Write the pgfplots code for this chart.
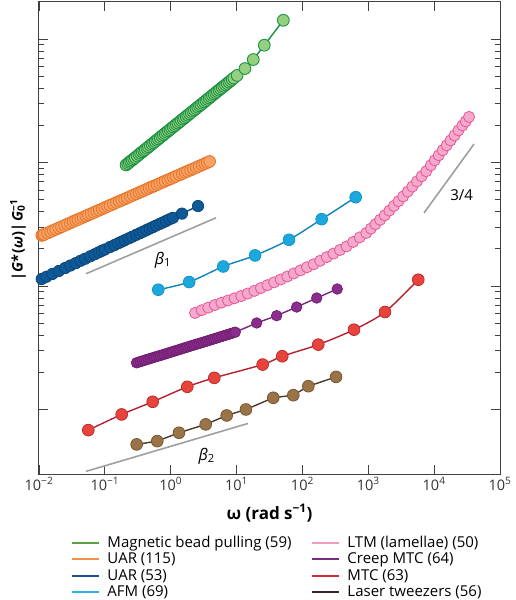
\documentclass[border=0pt]{standalone}
\usepackage{fontspec}
\setmainfont{Open Sans}
\usepackage{pgfplots}
\pgfplotsset{compat=1.18}
\definecolor{gLine}{HTML}{1A8F40}\definecolor{gFill}{HTML}{94D07F}\definecolor{gEdge}{HTML}{1E9245}
\definecolor{oLine}{HTML}{F07C2A}\definecolor{oFill}{HTML}{F6A265}\definecolor{oEdge}{HTML}{E8742A}
\definecolor{bLine}{HTML}{0B4E86}\definecolor{bFill}{HTML}{0E5A98}\definecolor{bEdge}{HTML}{0A4374}
\definecolor{aLine}{HTML}{0E84B8}\definecolor{aFill}{HTML}{1BA8DD}\definecolor{aEdge}{HTML}{1390C4}
\definecolor{pLine}{HTML}{E9579A}\definecolor{pFill}{HTML}{F5A9CB}\definecolor{pEdge}{HTML}{E4579A}
\definecolor{uLine}{HTML}{7B2580}\definecolor{uFill}{HTML}{8C2C8C}\definecolor{uEdge}{HTML}{6D1F70}
\definecolor{rLine}{HTML}{B5202C}\definecolor{rFill}{HTML}{E8443D}\definecolor{rEdge}{HTML}{B52A2A}
\definecolor{nLine}{HTML}{4A3B2A}\definecolor{nFill}{HTML}{9A7446}\definecolor{nEdge}{HTML}{6E5232}
\definecolor{lgG}{HTML}{5E9E45}\definecolor{lgO}{HTML}{F0904A}\definecolor{lgB}{HTML}{1F4F8C}
\definecolor{lgA}{HTML}{27B3E5}\definecolor{lgP}{HTML}{F29AC0}\definecolor{lgU}{HTML}{7A2C7E}
\definecolor{lgR}{HTML}{D9283C}\definecolor{lgN}{HTML}{3B2226}
\definecolor{axgray}{HTML}{404040}
\begin{document}
\begin{tikzpicture}
\begin{axis}[
  scale only axis, width=461pt, height=472pt,
  xmode=log, ymode=log,
  xmin=0.01, xmax=1e5, ymin=0.3, ymax=2000,
  xtick={0.01,0.1,1,10,100,1000,10000,100000},
  xticklabels={10\textsuperscript{−2},10\textsuperscript{−1},10\textsuperscript{0},10\textsuperscript{1},10\textsuperscript{2},10\textsuperscript{3},10\textsuperscript{4},10\textsuperscript{5}},
  xminorticks=false,
  ytick={1,10,100,1000}, yticklabels={},
  major tick length=9pt, minor tick length=5.5pt,
  axis line style={draw=axgray, line width=1pt},
  every tick/.style={axgray, line width=0.9pt},
  x tick label style={font=\fontsize{14.5}{14.5}\selectfont, text=axgray!80!black},
  xlabel={\textbf{ω (rad s\textsuperscript{−1})}},
  xlabel style={font=\fontsize{17}{17}\selectfont, at={(axis description cs:0.5,-0.0826)}, anchor=center},
  ylabel={\textbf{|\textit{G}*\hspace{0.08em}(\textit{ω})|\hspace{0.12em}\textit{G}\rlap{\textsubscript{0}}\textsuperscript{−1}}},
  ylabel style={font=\fontsize{14.5}{14.5}\selectfont, at={(axis description cs:-0.0456,0.496)}, anchor=center},
  legend style={at={(0.07,-0.127)}, anchor=north west, draw=none, fill=none,
    font=\fontsize{15}{15.7}\selectfont, inner sep=0pt,
    /tikz/every even column/.append style={column sep=18pt},
    /tikz/every odd column/.append style={column sep=5pt}},
  legend columns=2, legend cell align=left,
  legend image code/.code={\draw[line width=2pt] (0pt,0pt) -- (27pt,0pt);},
]
% Magnetic bead pulling
\addplot[forget plot, gLine, line width=1.4pt, mark=*, mark size=5.9pt, mark options={solid, fill=gFill, draw=gEdge, line width=0.9pt}] coordinates {
(0.21,95.7)(0.222,98.1)(0.235,100.5)(0.247,102.7)(0.26,105.0)(0.275,107.4)(0.29,109.9)(0.31,113.1)(0.33,116.4)(0.35,119.3)(0.37,122.2)(0.39,124.9)(0.41,127.6)(0.435,130.9)(0.46,134.3)(0.49,137.8)(0.52,141.3)(0.55,144.8)(0.58,148.3)(0.615,151.9)(0.65,155.6)(0.69,159.6)(0.73,163.7)(0.775,167.9)(0.82,172.2)(0.87,176.4)(0.92,180.7)(0.975,185.2)(1.03,189.7)(1.09,194.4)(1.15,199.1)(1.22,204.0)(1.29,208.9)(1.37,214.3)(1.45,219.8)(1.535,225.2)(1.62,230.7)(1.72,236.4)(1.82,242.1)(1.93,248.4)(2.04,254.7)(2.165,261.0)(2.29,267.3)(2.43,274.2)(2.57,281.2)(2.725,288.1)(2.88,295.1)(3.055,302.4)(3.23,309.7)(3.425,317.7)(3.62,325.8)(3.84,333.9)(4.06,342.0)(4.305,350.8)(4.55,359.7)(4.825,368.6)(5.1,377.6)(5.4,387.0)(5.7,396.3)(6.05,406.1)(6.4,415.9)(6.8,426.7)(7.2,437.5)(7.65,448.9)(8.1,460.3)(8.6,472.2)(9.1,484.2)(10.2,508.2)(13.43,578)(17.95,684)(26.36,893)(51.3,1422)};
% UAR (115)
\addplot[forget plot, oLine, line width=1.4pt, mark=*, mark size=5.9pt, mark options={solid, fill=oFill, draw=oEdge, line width=0.8pt}] coordinates {
(0.011,25.7)(0.0115,25.95)(0.012,26.2)(0.0135,26.9)(0.015,27.6)(0.0165,28.2)(0.018,28.8)(0.020,29.5)(0.022,30.2)(0.0245,30.95)(0.027,31.7)(0.030,32.5)(0.033,33.3)(0.036,33.95)(0.039,34.6)(0.043,35.35)(0.047,36.1)(0.0515,36.9)(0.056,37.7)(0.062,38.55)(0.068,39.4)(0.075,40.3)(0.082,41.2)(0.091,42.2)(0.1,43.2)(0.11,44.15)(0.12,45.1)(0.135,46.3)(0.15,47.5)(0.165,48.5)(0.18,49.5)(0.20,50.7)(0.22,51.9)(0.245,53.2)(0.27,54.5)(0.30,55.8)(0.33,57.1)(0.36,58.25)(0.39,59.4)(0.43,60.75)(0.47,62.1)(0.515,63.4)(0.56,64.7)(0.62,66.25)(0.68,67.8)(0.75,69.3)(0.82,70.8)(0.91,72.45)(1.0,74.1)(1.1,75.75)(1.2,77.4)(1.35,79.45)(1.5,81.5)(1.65,83.3)(1.8,85.1)(2.0,87.1)(2.2,89.1)(2.45,91.3)(2.7,93.5)(3.0,95.85)(3.3,98.2)(3.6,100.15)(3.9,102.1)};
% UAR (53)
\addplot[forget plot, bLine, line width=1.4pt, mark=*, mark size=5.7pt, mark options={solid, fill=bFill, draw=bEdge, line width=0.7pt}] coordinates {
(0.011,11.40)(0.013,11.89)(0.016,12.53)(0.02,13.24)(0.025,14.00)(0.03,14.66)(0.036,15.31)(0.043,16.03)(0.05,16.63)(0.06,17.41)(0.07,18.07)(0.08,18.71)(0.09,19.28)(0.1,19.77)(0.12,20.70)(0.14,21.48)(0.16,22.23)(0.18,22.86)(0.2,23.50)(0.23,24.32)(0.26,25.06)(0.3,26.00)(0.34,26.79)(0.38,27.54)(0.43,28.44)(0.48,29.24)(0.54,30.06)(0.6,30.90)(0.68,31.84)(0.76,32.73)(0.85,33.65)(0.95,34.67)(1.08,35.7)(1.48,38.6)(2.6,44.46)};
% AFM
\addplot[forget plot, aLine, line width=1.4pt, smooth, mark=*, mark size=5.9pt, mark options={solid, fill=aFill, draw=aEdge, line width=0.7pt}] coordinates {
(0.647,9.33)(1.91,10.77)(6.28,14.4)(19.1,17.7)(62.5,23.7)(196,34.8)(644,52.4)};
% LTM (lamellae)
\addplot[forget plot, pLine, line width=1.4pt, smooth, mark=*, mark size=5.6pt, mark options={solid, fill=pFill, draw=pEdge, line width=0.8pt}] coordinates {
(2.344,6.053)(2.951,6.368)(3.715,6.683)(4.677,7.015)(5.888,7.328)(7.413,7.638)(9.333,7.962)(11.75,8.299)(14.79,8.690)(18.62,9.141)(23.44,9.638)(29.51,10.16)(37.15,10.72)(46.77,11.30)(58.88,11.94)(74.13,12.65)(93.33,13.40)(117.5,14.19)(147.9,15.00)(186.2,16.03)(234.4,17.14)(295.1,18.32)(371.5,19.59)(467.7,20.94)(588.8,22.75)(741.3,24.77)(933.3,26.92)(1096,29.17)(1288,31.70)(1514,34.44)(1778,37.41)(2089,40.83)(2455,44.57)(2884,48.64)(3388,53.21)(3981,58.21)(4677,63.97)(5495,70.47)(6457,77.45)(7586,85.11)(8913,95.06)(10233,104.5)(11749,114.6)(13490,125.9)(15488,138.0)(17783,151.4)(20417,166.0)(23442,182.4)(26915,200.0)(30200,215.8)(33884,234.4)};
% Creep MTC
\addplot[forget plot, uLine, line width=1.4pt, mark=*, mark size=5.3pt, mark options={solid, fill=uFill, draw=uEdge, line width=0.7pt}] coordinates {
(0.302,2.388)(0.324,2.415)(0.3467,2.443)(0.372,2.471)(0.3981,2.500)(0.428,2.529)(0.4571,2.559)(0.491,2.588)(0.5248,2.618)(0.564,2.648)(0.6026,2.679)(0.647,2.707)(0.6918,2.735)(0.743,2.767)(0.7943,2.799)(0.853,2.831)(0.9120,2.864)(0.980,2.897)(1.047,2.931)(1.124,2.965)(1.202,2.999)(1.291,3.034)(1.380,3.069)(1.482,3.105)(1.585,3.141)(1.702,3.177)(1.820,3.214)(1.954,3.251)(2.089,3.289)(2.244,3.327)(2.399,3.365)(2.576,3.400)(2.754,3.436)(2.958,3.476)(3.162,3.516)(3.396,3.556)(3.631,3.597)(3.900,3.639)(4.169,3.681)(4.477,3.724)(4.786,3.767)(5.140,3.811)(5.495,3.855)(5.902,3.900)(6.310,3.945)(6.777,3.990)(7.244,4.036)(7.781,4.083)(8.318,4.130)(8.934,4.178)(9.550,4.227)(20.2,5.02)(40.6,5.75)(81.8,6.76)(165,8.00)(338,9.46)};
% MTC
\addplot[forget plot, rLine, line width=1.4pt, smooth, mark=*, mark size=5.9pt, mark options={solid, fill=rFill, draw=rEdge, line width=0.7pt}] coordinates {
(0.0561,0.680)(0.180,0.911)(0.532,1.154)(1.786,1.526)(4.59,1.804)(24.9,2.311)(49.4,2.698)(174,3.352)(607,4.43)(1795,6.16)(5741,11.25)};
% Laser tweezers
\addplot[forget plot, nLine, line width=1.4pt, mark=*, mark size=5.9pt, mark options={solid, fill=nFill, draw=nEdge, line width=0.7pt}] coordinates {
(0.304,0.521)(0.625,0.554)(1.336,0.648)(3.40,0.757)(7.08,0.894)(13.9,1.0)(36.1,1.244)(72.7,1.305)(123,1.543)(324,1.837)};
% slope guides
\addplot[forget plot, gray!75, line width=1.6pt] coordinates {(0.0518,12.57) (4.88,35.7)};
\addplot[forget plot, gray!75, line width=1.6pt] coordinates {(0.0518,0.315) (14.9,0.770)};
\addplot[forget plot, gray!75, line width=1.6pt] coordinates {(7015,39.1) (40270,141.3)};
\node[font=\fontsize{16}{16}\selectfont] at (axis cs:0.763,16.3) {\textit{β}\textsubscript{1}};
\node[font=\fontsize{16}{16}\selectfont] at (axis cs:3.52,0.419) {\textit{β}\textsubscript{2}};
\node[font=\fontsize{15}{15}\selectfont] at (axis cs:26180,54.7) {3/4};
% legend (row-wise order)
\addlegendimage{lgG}\addlegendentry{Magnetic bead pulling (59)}
\addlegendimage{lgP}\addlegendentry{LTM (lamellae) (50)}
\addlegendimage{lgO}\addlegendentry{UAR (115)}
\addlegendimage{lgU}\addlegendentry{Creep MTC (64)}
\addlegendimage{lgB}\addlegendentry{UAR (53)}
\addlegendimage{lgR}\addlegendentry{MTC (63)}
\addlegendimage{lgA}\addlegendentry{AFM (69)}
\addlegendimage{lgN}\addlegendentry{Laser tweezers (56)}
\end{axis}
\pgfresetboundingbox
\path ([xshift=-39pt,yshift=-126pt]current axis.south west) rectangle ([xshift=15pt,yshift=2pt]current axis.north east);
\end{tikzpicture}
\end{document}
